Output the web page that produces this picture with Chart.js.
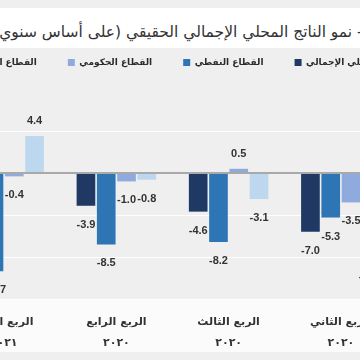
<!DOCTYPE html>
<html lang="ar">
<head>
<meta charset="utf-8">
<script src="https://cdn.jsdelivr.net/npm/chart.js@4.4.1/dist/chart.umd.min.js"></script>
<style>
  html, body { margin: 0; padding: 0; }
  body {
    width: 360px; height: 360px; overflow: hidden; position: relative;
    background: #efefef; font-family: 'DejaVu Sans', sans-serif;
  }
  #title-band { position: absolute; left: 0; top: 8px; width: 360px; height: 40px; background: #fff; overflow: hidden; }
  #title {
    position: absolute; right: -11px; top: 15px; direction: rtl; white-space: nowrap;
    font-size: 15.5px; font-weight: normal; color: #333;
  }
  #label-band { position: absolute; left: 0; top: 299px; width: 360px; height: 53px; background: #fbfbfb; }
  #chart-box { position: absolute; left: -244px; top: 0; width: 800px; height: 360px; }
</style>
</head>
<body>
<div id="title-band"><span id="title">١- نمو الناتج المحلي الإجمالي الحقيقي (على أساس سنوي)</span></div>
<div id="label-band"></div>
<div id="chart-box"><canvas id="gdp-chart"></canvas></div>
<script>
// quarters, oldest first (axis runs right to left)
const quarters = [
  ["الربع الثاني", "٢٠٢٠"],
  ["الربع الثالث", "٢٠٢٠"],
  ["الربع الرابع", "٢٠٢٠"],
  ["الربع الأول", "٢٠٢١"]
];
const seriesNames = ["الناتج المحلي الإجمالي", "القطاع النفطي", "القطاع الحكومي", "القطاع الخاص غير النفطي"];
const totalGdp = [-7.0, -4.6, -3.9, -3.0];
const oilSector = [-5.3, -8.2, -8.5, -11.7];
const govSector = [-3.5, 0.5, -1.0, -0.4];
const nonOilPrivate = [-10.1, -3.1, -0.8, 4.4];
const yMin = -15;
const yMax = 11.43;
const yStep = 5;

const barColors = ["#1f3864", "#2e75b6", "#8faadc", "#bdd7ee"];
const arabicFont = "'DejaVu Sans', sans-serif";

// value labels above / below each bar
const valueLabels = {
  id: "valueLabels",
  afterDatasetsDraw(chart) {
    const ctx = chart.ctx;
    ctx.save();
    ctx.font = "bold 11px 'Liberation Sans', Arial, sans-serif";
    ctx.fillStyle = "#333";
    ctx.textAlign = "center";
    ctx.textBaseline = "middle";
    chart.data.datasets.forEach((ds, i) => {
      chart.getDatasetMeta(i).data.forEach((bar, j) => {
        const v = ds.data[j];
        const y = v >= 0 ? bar.y - 15 : bar.y + 19;
        ctx.fillText(v.toFixed(1), bar.x, y);
      });
    });
    ctx.restore();
  }
};

const seriesData = [totalGdp, oilSector, govSector, nonOilPrivate];

new Chart(document.getElementById("gdp-chart"), {
  type: "bar",
  data: {
    labels: quarters,
    datasets: seriesData.map((vals, i) => ({
      label: seriesNames[i],
      data: vals,
      backgroundColor: barColors[i],
      borderWidth: 0,
      categoryPercentage: 0.723,
      barPercentage: 0.92
    }))
  },
  options: {
    responsive: true,
    maintainAspectRatio: false,
    animation: false,
    layout: { padding: { top: 27 } },
    plugins: {
      tooltip: { enabled: false },
      legend: {
        reverse: true,
        labels: {
          boxWidth: 7,
          boxHeight: 7,
          padding: 31,
          color: "#2b2b2b",
          font: { family: arabicFont, size: 9, weight: "bold" }
        }
      }
    },
    scales: {
      x: {
        reverse: true,
        grid: { display: false },
        border: { display: false },
        ticks: {
          color: "#333",
          padding: 5,
          maxRotation: 0,
          autoSkip: false,
          font: { family: arabicFont, size: 11, weight: "bold", lineHeight: 1.9 }
        },
        afterFit(scale) { scale.height = 61; }
      },
      y: {
        min: yMin,
        max: yMax,
        ticks: { display: false, stepSize: yStep },
        border: { display: false },
        grid: {
          drawTicks: false,
          color: (c) => c.tick.value === 0 ? "#a9a9a9" : (c.tick.value % yStep === 0 ? "#ffffff" : "rgba(0,0,0,0)"),
          lineWidth: (c) => c.tick.value === 0 ? 2 : 1
        },
        afterFit(scale) { scale.width = 192; }
      },
      yRight: {
        position: "right",
        display: true,
        ticks: { display: false },
        grid: { display: false },
        border: { display: false },
        afterFit(scale) { scale.width = 159; }
      }
    }
  },
  plugins: [valueLabels]
});
</script>
</body>
</html>
